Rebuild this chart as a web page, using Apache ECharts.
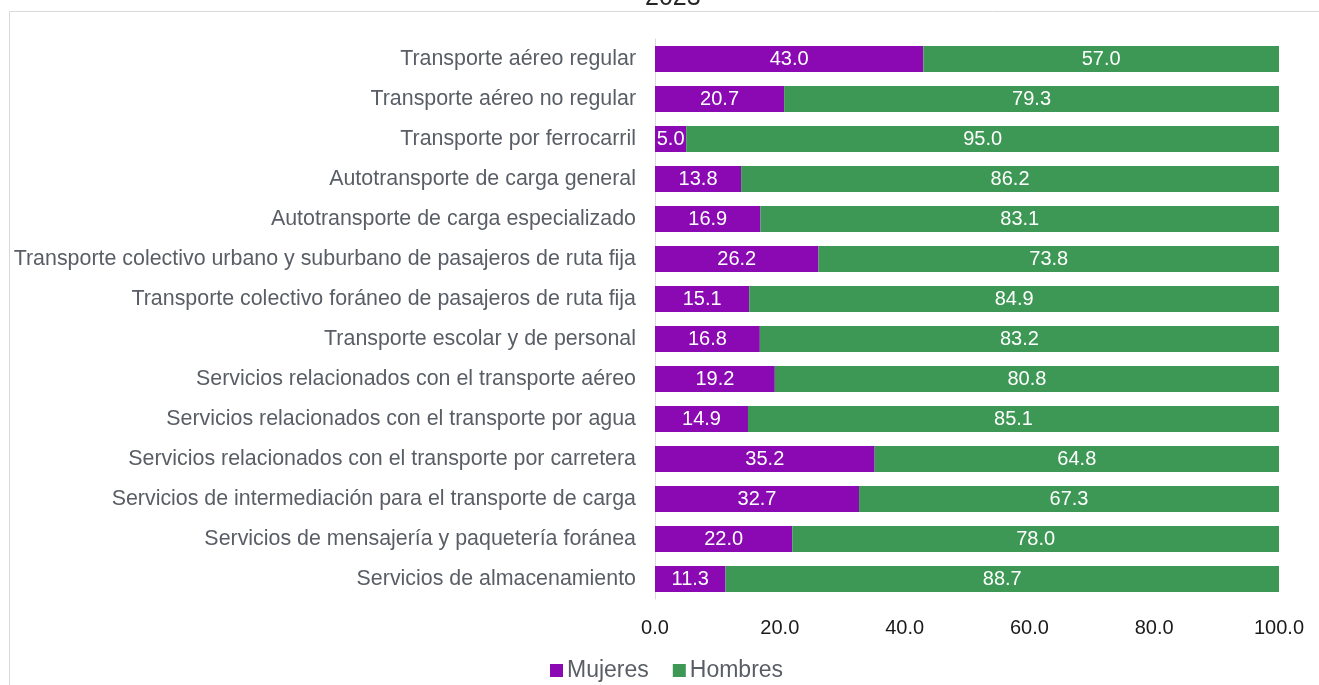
<!DOCTYPE html>
<html>
<head>
<meta charset="utf-8">
<title>2023</title>
<script src="https://cdn.jsdelivr.net/npm/echarts@6/dist/echarts.min.js"></script>
<style>
  html, body { margin: 0; padding: 0; background: #fff; }
  #chart { width: 1319px; height: 685px; }
</style>
</head>
<body>
<div id="chart"></div>
<script>
var categorias = [
  'Transporte aéreo regular',
  'Transporte aéreo no regular',
  'Transporte por ferrocarril',
  'Autotransporte de carga general',
  'Autotransporte de carga especializado',
  'Transporte colectivo urbano y suburbano de pasajeros de ruta fija',
  'Transporte colectivo foráneo de pasajeros de ruta fija',
  'Transporte escolar y de personal',
  'Servicios relacionados con el transporte aéreo',
  'Servicios relacionados con el transporte por agua',
  'Servicios relacionados con el transporte por carretera',
  'Servicios de intermediación para el transporte de carga',
  'Servicios de mensajería y paquetería foránea',
  'Servicios de almacenamiento'
];
var mujeres = [43.0, 20.7, 5.0, 13.8, 16.9, 26.2, 15.1, 16.8, 19.2, 14.9, 35.2, 32.7, 22.0, 11.3];
var hombres = [57.0, 79.3, 95.0, 86.2, 83.1, 73.8, 84.9, 83.2, 80.8, 85.1, 64.8, 67.3, 78.0, 88.7];

var fuente = '"Liberation Sans", Arial, sans-serif';
var chart = echarts.init(document.getElementById('chart'));

// etiqueta blanca centrada dentro de cada barra
var etiqueta = {
  show: true,
  position: 'inside',
  color: '#fff',
  fontSize: 20,
  fontFamily: fuente,
  formatter: function (p) { return p.value.toFixed(1); }
};

var option = {
  animation: false,
  title: {
    text: '2023',
    left: 640,
    top: -19,
    textStyle: { fontSize: 25, fontWeight: 'normal', color: '#262626', fontFamily: fuente }
  },
  graphic: [{
    type: 'rect',
    shape: { x: 9.5, y: 11.5, width: 1400, height: 700 },
    style: { fill: 'none', stroke: '#d9d9d9', lineWidth: 1 },
    silent: true
  }],
  legend: {
    data: ['Mujeres', 'Hombres'],
    bottom: -2,
    left: 545,
    itemWidth: 13,
    itemHeight: 13,
    itemGap: 24,
    icon: 'rect',
    textStyle: { fontSize: 23, color: '#595e66', fontFamily: fuente, padding: [0, 0, 0, -1] }
  },
  grid: { left: 655, right: 40, top: 39, bottom: 86 },
  xAxis: {
    type: 'value',
    min: 0,
    max: 100,
    interval: 20,
    axisLine: { show: false },
    axisTick: { show: false },
    splitLine: { show: false },
    axisLabel: {
      margin: 19,
      fontSize: 20,
      color: '#1a1a1a',
      fontFamily: fuente,
      formatter: function (v) { return v.toFixed(1); }
    }
  },
  yAxis: {
    type: 'category',
    data: categorias,
    inverse: true,
    axisLine: { show: true, lineStyle: { color: '#d9d9d9', width: 1 } },
    axisTick: { show: false },
    axisLabel: { margin: 19, fontSize: 21.4, color: '#595e66', fontFamily: fuente }
  },
  series: [{
    name: 'Mujeres',
    type: 'bar',
    stack: 'total',
    data: mujeres,
    barWidth: 26,
    itemStyle: { color: '#8a09b3' },
    label: etiqueta
  }, {
    name: 'Hombres',
    type: 'bar',
    stack: 'total',
    data: hombres,
    barWidth: 26,
    itemStyle: { color: '#3d9855' },
    label: etiqueta
  }]
};
chart.setOption(option);
</script>
</body>
</html>
